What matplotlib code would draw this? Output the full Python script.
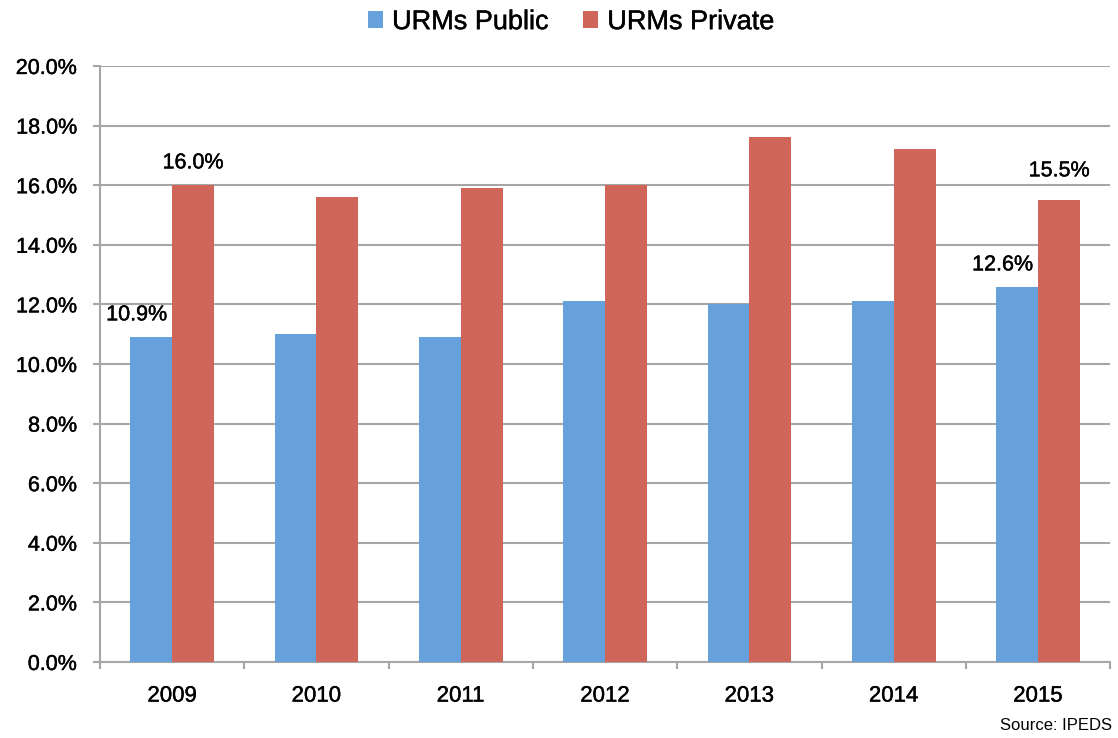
import numpy as np
import matplotlib
matplotlib.use("Agg")
import matplotlib.pyplot as plt
import matplotlib.patheffects as pe
from matplotlib.ticker import FuncFormatter, FixedLocator

plt.rcParams["font.family"] = ["Liberation Sans", "DejaVu Sans"]

years = ["2009", "2010", "2011", "2012", "2013", "2014", "2015"]
urm_public = [10.9, 11.0, 10.9, 12.1, 12.0, 12.1, 12.6]
urm_private = [16.0, 15.6, 15.9, 16.0, 17.6, 17.2, 15.5]
labelled = [0, 6]   # only first and last year carry value labels

BLUE = "#66a1db"
RED = "#d0655a"
GRID = "#a6a6a6"
heavy = [pe.withStroke(linewidth=0.3, foreground="black")]

fig = plt.figure(figsize=(11.18, 7.38), dpi=100)
ax = fig.add_axes([0.0894, 0.103, 0.9036, 0.8076])

x = np.arange(len(years))
w = 0.29
b1 = ax.bar(x - w/2, urm_public, w, color=BLUE, label="URMs Public", zorder=3)
b2 = ax.bar(x + w/2, urm_private, w, color=RED, label="URMs Private", zorder=3)

# value labels (first and last year only), nudged like the original
offs_pub = {0: (-10.5, 8.5), 6: (-10.5, 8)}
offs_pri = {0: (0, 8.5), 6: (0, 13.5)}
for i in labelled:
    t = ax.annotate(f"{urm_public[i]:.1f}%", (x[i] - w/2, urm_public[i]),
                    xytext=offs_pub[i], textcoords="offset points",
                    ha="center", va="bottom", fontsize=15.5)
    t.set_path_effects(heavy)
    t = ax.annotate(f"{urm_private[i]:.1f}%", (x[i] + w/2, urm_private[i]),
                    xytext=offs_pri[i], textcoords="offset points",
                    ha="center", va="bottom", fontsize=15.5)
    t.set_path_effects(heavy)

ax.set_xlim(-0.5, len(years) - 0.5)
ax.set_ylim(0, 20)
ax.set_yticks(np.arange(0, 20.1, 2))
ax.yaxis.set_major_formatter(FuncFormatter(lambda v, p: f"{v:.1f}%"))
ax.set_xticks(x)
ax.set_xticklabels(years)
ax.xaxis.set_minor_locator(FixedLocator(np.arange(-0.5, len(years), 1.0)))
ax.tick_params(axis="x", which="major", length=0, pad=17, labelsize=16)
ax.tick_params(axis="x", which="minor", length=5, width=1.5, color=GRID)
ax.tick_params(axis="y", length=5, width=1.5, color=GRID, labelsize=15.5, pad=11.5)
for lab in ax.get_xticklabels() + ax.get_yticklabels():
    lab.set_path_effects(heavy)

ax.grid(axis="y", color=GRID, lw=1.5, zorder=0)
for s in ("top", "right"):
    ax.spines[s].set_visible(False)
for s in ("left", "bottom"):
    ax.spines[s].set_color(GRID)
    ax.spines[s].set_linewidth(1.5)

leg = fig.legend(handles=[b1, b2], loc="center", bbox_to_anchor=(0.511, 0.97), ncol=2,
                 frameon=False, fontsize=19.5, handlelength=0.55, handleheight=0.55,
                 handletextpad=0.35, columnspacing=1.25)
for t in leg.get_texts():
    t.set_path_effects(heavy)

fig.text(0.995, 0.0176, "Source: IPEDS", ha="right", va="center", fontsize=12)

fig.savefig("out.png", dpi=100)
